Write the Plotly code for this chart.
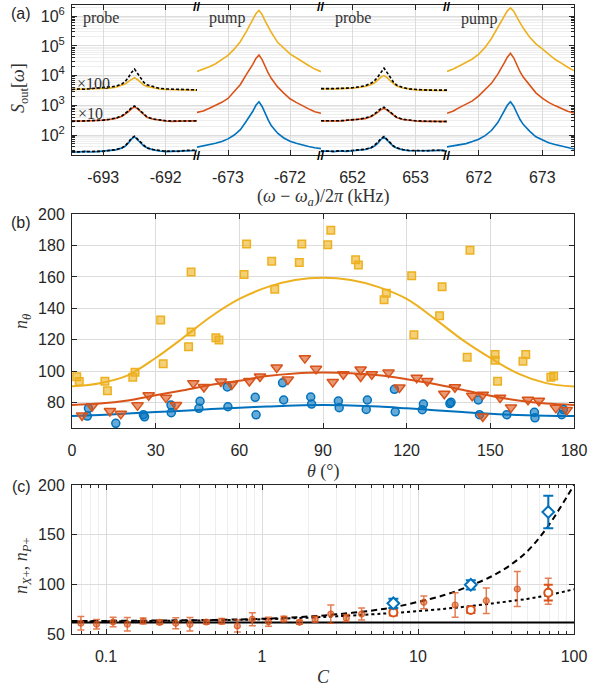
import numpy as np
import plotly.graph_objects as go

# ---------------- (a) spectra (values are log10 S_out) ----------------
detuning = [-1.0, -0.9, -0.8, -0.7, -0.6, -0.5, -0.4, -0.3, -0.2, -0.15, -0.1, -0.05, 0.0,
            0.05, 0.1, 0.15, 0.2, 0.3, 0.4, 0.5, 0.6, 0.7, 0.8, 0.9, 1.0]
centers = [-692.5, -672.5, 652.5, 672.5]
seg_ranges = [[-693.5, -691.5], [-673.5, -671.5], [651.5, 653.5], [671.5, 673.5]]
seg_ticks = [[-693, -692], [-673, -672], [652, 653], [672, 673]]

# probe (left)
blue_p1 = [1.44, 1.42, 1.45, 1.43, 1.44, 1.46, 1.47, 1.50, 1.56, 1.62, 1.72, 1.86, 1.94, 1.84, 1.72, 1.63, 1.57, 1.50, 1.46, 1.44, 1.45, 1.46, 1.47, 1.49, 1.48]
blue_p1_ref = [1.43, 1.44, 1.44, 1.44, 1.45, 1.45, 1.48, 1.51, 1.57, 1.64, 1.75, 1.89, 1.96, 1.86, 1.73, 1.64, 1.56, 1.51, 1.47, 1.45, 1.46, 1.45, 1.48, 1.48, 1.49]
orange_p1 = [2.47, 2.46, 2.47, 2.48, 2.48, 2.50, 2.52, 2.56, 2.63, 2.70, 2.78, 2.88, 2.95, 2.88, 2.78, 2.68, 2.60, 2.53, 2.49, 2.47, 2.46, 2.47, 2.46, 2.48, 2.47]
orange_p1_ref = [2.46, 2.47, 2.48, 2.47, 2.49, 2.50, 2.53, 2.57, 2.65, 2.72, 2.81, 2.91, 2.98, 2.90, 2.80, 2.70, 2.61, 2.54, 2.50, 2.48, 2.47, 2.46, 2.47, 2.47, 2.48]
yellow_p1 = [3.53, 3.54, 3.53, 3.55, 3.55, 3.57, 3.58, 3.61, 3.67, 3.72, 3.80, 3.88, 3.93, 3.86, 3.76, 3.68, 3.63, 3.58, 3.55, 3.53, 3.53, 3.52, 3.53, 3.52, 3.51]
yellow_p1_ref = [3.53, 3.55, 3.54, 3.56, 3.56, 3.58, 3.60, 3.64, 3.72, 3.80, 3.93, 4.10, 4.22, 4.08, 3.90, 3.77, 3.69, 3.62, 3.57, 3.55, 3.54, 3.53, 3.54, 3.52, 3.52]

# pump (left)
blue_q2 = [1.59, 1.63, 1.67, 1.72, 1.78, 1.87, 2.00, 2.18, 2.48, 2.62, 2.80, 3.00, 3.12, 2.96, 2.70, 2.50, 2.31, 2.06, 1.90, 1.79, 1.72, 1.66, 1.61, 1.57, 1.54]
orange_q2 = [2.76, 2.81, 2.90, 2.99, 3.10, 3.23, 3.45, 3.70, 4.05, 4.20, 4.38, 4.58, 4.69, 4.54, 4.28, 4.08, 3.90, 3.62, 3.41, 3.22, 3.10, 2.98, 2.88, 2.78, 2.73]
yellow_q2 = [4.14, 4.21, 4.30, 4.40, 4.53, 4.68, 4.89, 5.15, 5.50, 5.68, 5.88, 6.08, 6.19, 6.06, 5.83, 5.62, 5.45, 5.12, 4.92, 4.73, 4.60, 4.46, 4.34, 4.22, 4.13]

# probe (right)
blue_p3 = [1.45, 1.46, 1.44, 1.46, 1.45, 1.47, 1.48, 1.51, 1.57, 1.63, 1.72, 1.85, 1.93, 1.83, 1.71, 1.62, 1.56, 1.50, 1.47, 1.46, 1.47, 1.48, 1.47, 1.49, 1.46]
blue_p3_ref = [1.46, 1.45, 1.45, 1.47, 1.46, 1.48, 1.49, 1.52, 1.58, 1.65, 1.75, 1.88, 1.95, 1.85, 1.73, 1.63, 1.57, 1.51, 1.48, 1.47, 1.48, 1.47, 1.49, 1.48, 1.47]
orange_p3 = [2.47, 2.48, 2.47, 2.47, 2.49, 2.50, 2.52, 2.55, 2.62, 2.68, 2.76, 2.85, 2.90, 2.84, 2.75, 2.66, 2.59, 2.52, 2.49, 2.47, 2.46, 2.47, 2.46, 2.46, 2.45]
orange_p3_ref = [2.48, 2.47, 2.48, 2.48, 2.49, 2.51, 2.53, 2.57, 2.64, 2.71, 2.80, 2.89, 2.94, 2.87, 2.77, 2.68, 2.60, 2.53, 2.50, 2.48, 2.47, 2.46, 2.47, 2.45, 2.46]
yellow_p3 = [3.55, 3.54, 3.55, 3.56, 3.56, 3.58, 3.60, 3.63, 3.70, 3.76, 3.85, 3.95, 4.00, 3.93, 3.82, 3.72, 3.65, 3.58, 3.54, 3.52, 3.51, 3.52, 3.50, 3.51, 3.50]
yellow_p3_ref = [3.56, 3.55, 3.56, 3.57, 3.57, 3.59, 3.62, 3.66, 3.75, 3.83, 3.95, 4.12, 4.25, 4.10, 3.92, 3.78, 3.68, 3.60, 3.55, 3.53, 3.52, 3.51, 3.51, 3.50, 3.51]

# pump (right)
blue_q4 = [1.60, 1.63, 1.66, 1.71, 1.78, 1.86, 1.98, 2.15, 2.42, 2.60, 2.80, 3.00, 3.12, 2.97, 2.74, 2.52, 2.36, 2.13, 1.94, 1.83, 1.74, 1.68, 1.64, 1.58, 1.53]
orange_q4 = [2.73, 2.81, 2.93, 3.03, 3.15, 3.32, 3.52, 3.74, 4.05, 4.22, 4.42, 4.62, 4.75, 4.60, 4.35, 4.13, 3.95, 3.68, 3.42, 3.24, 3.10, 2.99, 2.90, 2.80, 2.74]
yellow_q4 = [4.14, 4.22, 4.33, 4.44, 4.56, 4.72, 4.95, 5.25, 5.62, 5.82, 6.00, 6.18, 6.28, 6.17, 5.97, 5.77, 5.60, 5.30, 5.07, 4.90, 4.72, 4.55, 4.42, 4.28, 4.17]

seg_labels = ["probe", "pump", "probe", "pump"]

# ---------------- (b) n_theta ----------------
theta_sq = [1.7, 2.6, 11.8, 12.7, 21.8, 22.6, 31.8, 32.7, 42.7, 42.7, 41.8, 51.6, 52.7, 61.7, 62.6, 71.6, 72.7,
            81.5, 82.4, 92.8, 91.7, 101.7, 102.7, 111.9, 112.7, 121.8, 122.6, 131.8, 132.7, 142.7, 141.7,
            151.7, 151.7, 152.6, 162.7, 161.7, 171.7, 172.7]
n_sq = [96.5, 93.5, 93.7, 87.7, 96.3, 99.5, 132.7, 104.8, 163.1, 125.0, 115.7, 121.4, 119.9, 161.5, 181.0, 170.0, 152.1,
        169.1, 181.0, 189.6, 180.4, 171.0, 167.6, 145.5, 149.7, 160.8, 123.3, 135.3, 153.8, 177.0, 109.0,
        110.7, 107.1, 93.7, 110.7, 106.5, 96.3, 97.1]
theta_tri = [3.6, 7.2, 13.6, 17.5, 23.5, 27.5, 33.7, 37.3, 43.5, 47.3, 53.4, 57.3, 63.6, 67.4, 73.4, 77.4, 83.5, 87.5,
             93.5, 97.3, 103.5, 103.5, 107.5, 113.5, 117.4, 123.6, 127.4, 133.5, 137.3, 143.5, 147.3, 147.3,
             153.5, 157.4, 163.5, 167.4, 173.5, 177.4]
n_tri = [72.0, 77.8, 74.8, 73.0, 78.4, 84.8, 83.3, 78.6, 92.5, 90.1, 93.5, 91.6, 93.9, 96.7, 102.4, 94.8, 108.4, 101.6,
         93.3, 98.2, 101.2, 96.7, 98.2, 99.2, 89.7, 96.0, 93.9, 85.8, 89.9, 84.5, 85.2, 71.3,
         83.3, 77.1, 82.0, 81.3, 76.8, 75.5]
theta_ci = [5.5, 5.9, 15.7, 25.6, 26.0, 35.5, 35.6, 45.9, 45.5, 55.7, 55.9, 65.7, 66.0, 75.5, 75.9, 85.6, 85.9,
            95.5, 95.8, 105.9, 105.5, 115.6, 115.9, 126.0, 125.6, 135.9, 135.5, 145.7, 146.1, 155.9, 165.8,
            166.0, 175.6, 176.2]
n_ci = [71.6, 76.5, 67.0, 72.5, 71.1, 78.6, 73.7, 81.0, 76.5, 90.1, 77.5, 83.5, 72.4, 92.7, 81.8, 83.7, 79.2,
        81.1, 76.9, 81.8, 75.8, 88.6, 74.3, 79.2, 75.6, 80.3, 79.5, 81.8, 72.5, 72.5, 74.0,
        70.5, 72.5, 75.8]
theta_fit = [0, 10, 20, 30, 40, 50, 60, 70, 80, 90, 100, 110, 120, 130, 140, 150, 160, 170, 180]
fit_yellow = [90.5, 92.5, 97.5, 108.5, 121.5, 135.0, 146.0, 153.5, 158.0, 159.5, 158.0, 153.5, 146.0, 133.5, 120.0, 108.5, 98.5, 92.5, 90.3]
fit_orange = [78.6, 79.5, 81.5, 84.8, 88.0, 91.5, 94.0, 97.0, 98.7, 99.2, 98.8, 97.5, 95.0, 92.0, 88.3, 84.5, 81.5, 79.5, 78.6]
fit_blue = [71.6, 72.3, 73.2, 74.1, 75.0, 76.0, 76.9, 77.6, 78.3, 78.6, 78.3, 77.6, 76.5, 75.3, 74.1, 73.0, 72.3, 71.8, 71.6]

# ---------------- (c) n_X+, n_P+ vs C ----------------
C_fill = [0.069, 0.087, 0.111, 0.137, 0.173, 0.221, 0.28, 0.345, 0.44, 0.552, 0.695, 0.867, 1.10, 1.38, 1.74,
          2.19, 2.76, 3.47, 4.35, 10.9, 17.3, 27.4, 43.3, 68.4]
n_fill = [60.8, 59.8, 62.1, 59.8, 63.1, 61.8, 60.8, 59.8, 62.1, 62.8, 58.1, 64.8, 62.4, 65.1, 61.8,
          64.8, 70.1, 66.2, 70.1, 81.9, 79.2, 83.5, 95.3, 93.0]
e_fill = [6.7, 4.7, 4.7, 6.7, 3.0, 2.3, 5.5, 6.7, 2.0, 2.7, 6.0, 6.5, 4.5, 2.7, 2.0,
          3.0, 9.2, 3.5, 6.0, 6.4, 12.3, 12.9, 17.7, 13.0]
C_open = [6.95, 21.8, 68.4]
n_open = [71.6, 74.2, 91.6]
e_open = [3.0, 3.0, 8.0]
C_dia = [6.95, 21.8, 68.4]
n_dia = [80.9, 99.5, 172.8]
e_dia = [4.6, 4.7, 16.3]
C_line = [0.06, 0.1, 0.2, 0.5, 1, 2, 3, 5, 7, 10, 15, 20, 30, 40, 50, 60, 70, 80, 90, 100]
n_dashed = [63.0, 63.2, 63.5, 64.2, 65.3, 67.6, 69.8, 73.5, 77.0, 82.3, 89.5, 96.5, 108.5, 120.5, 133.0, 147.0, 161.0, 175.0, 188.0, 200.0]
n_dotted = [62.6, 62.8, 63.1, 63.8, 64.8, 66.5, 67.8, 69.8, 71.2, 73.0, 75.5, 77.5, 80.8, 83.3, 85.3, 87.5, 89.5, 91.5, 93.3, 95.0]
C_base = [0.06, 100]
n_base = [61.5, 61.5]

# ---------------- styling ----------------
W, H = 590, 691
BLUE, ORANGE, YELLOW = "#0072BD", "#D95319", "#EDB120"
AX = "#262626"
GRID = "#DCDCDC"
MGRID = "#EEEEEE"
SANS = "Liberation Sans"
SERIF = "Liberation Serif"
TF = dict(family=SANS, size=16, color=AX)


def px(x):
    return x / W


def py(y):
    return 1 - y / H


XB = [72, 197, 321, 447, 574]
XD = [px(v) for v in XB]
A_DOM = [py(155), py(5)]
B_DOM = [py(428), py(214)]
C_DOM = [py(634), py(485)]

fig = go.Figure()

xnames = ["x", "x2", "x3", "x4"]
ynames = ["y", "y", "y", "y5"]
seg_series = [
    [(blue_p1, BLUE), (orange_p1, ORANGE), (yellow_p1, YELLOW)],
    [(blue_q2, BLUE), (orange_q2, ORANGE), (yellow_q2, YELLOW)],
    [(blue_p3, BLUE), (orange_p3, ORANGE), (yellow_p3, YELLOW)],
    [(blue_q4, BLUE), (orange_q4, ORANGE), (yellow_q4, YELLOW)],
]
seg_refs = [[blue_p1_ref, orange_p1_ref, yellow_p1_ref], None,
            [blue_p3_ref, orange_p3_ref, yellow_p3_ref], None]

for k in range(4):
    f = [centers[k] + d for d in detuning]
    for vals, col in seg_series[k]:
        fig.add_trace(go.Scatter(x=f, y=10 ** np.array(vals), mode="lines",
                                 line=dict(color=col, width=1.6),
                                 xaxis=xnames[k], yaxis=ynames[k], hoverinfo="skip"))
    if seg_refs[k] is not None:
        for vals in seg_refs[k]:
            fig.add_trace(go.Scatter(x=f, y=10 ** np.array(vals), mode="lines",
                                     line=dict(color="black", width=1.6, dash="3px,2px"),
                                     xaxis=xnames[k], yaxis=ynames[k], hoverinfo="skip"))

# (b)
for tf, col in [(fit_blue, BLUE), (fit_orange, ORANGE), (fit_yellow, YELLOW)]:
    fig.add_trace(go.Scatter(x=theta_fit, y=tf, mode="lines", line=dict(color=col, width=2, shape="spline"),
                             xaxis="x5", yaxis="y2", hoverinfo="skip"))
fig.add_trace(go.Scatter(x=theta_ci, y=n_ci, mode="markers",
                         marker=dict(symbol="circle", size=8, color="rgba(0,114,189,0.6)",
                                     line=dict(color=BLUE, width=1.5)),
                         xaxis="x5", yaxis="y2"))
fig.add_trace(go.Scatter(x=theta_tri, y=n_tri, mode="markers",
                         marker=dict(symbol="triangle-down", size=10, color="rgba(217,83,25,0.6)",
                                     line=dict(color=ORANGE, width=1.5)),
                         xaxis="x5", yaxis="y2"))
fig.add_trace(go.Scatter(x=theta_sq, y=n_sq, mode="markers",
                         marker=dict(symbol="square", size=7.5, color="rgba(237,177,32,0.6)",
                                     line=dict(color=YELLOW, width=1.5)),
                         xaxis="x5", yaxis="y2"))

# (c)
fig.add_trace(go.Scatter(x=C_base, y=n_base, mode="lines", line=dict(color="black", width=2),
                         xaxis="x6", yaxis="y3"))
fig.add_trace(go.Scatter(x=C_line, y=n_dotted, mode="lines", line=dict(color="black", width=2, dash="dot", shape="spline"),
                         xaxis="x6", yaxis="y3"))
fig.add_trace(go.Scatter(x=C_line, y=n_dashed, mode="lines", line=dict(color="black", width=2, dash="6px,4px", shape="spline"),
                         xaxis="x6", yaxis="y3"))
fig.add_trace(go.Scatter(x=C_fill, y=n_fill, mode="markers",
                         marker=dict(symbol="circle", size=6, color="rgba(217,83,25,0.55)",
                                     line=dict(color="rgba(217,83,25,0.8)", width=1.2)),
                         error_y=dict(type="data", array=e_fill, color="rgba(217,83,25,0.75)", thickness=1.5, width=3.5),
                         xaxis="x6", yaxis="y3"))
fig.add_trace(go.Scatter(x=C_open, y=n_open, mode="markers",
                         marker=dict(symbol="circle", size=8, color="white", line=dict(color=ORANGE, width=2)),
                         error_y=dict(type="data", array=e_open, color=ORANGE, thickness=2, width=4.5),
                         xaxis="x6", yaxis="y3"))
fig.add_trace(go.Scatter(x=C_dia, y=n_dia, mode="markers",
                         marker=dict(symbol="diamond", size=9, color="white", line=dict(color=BLUE, width=2)),
                         error_y=dict(type="data", array=e_dia, color=BLUE, thickness=2, width=5),
                         xaxis="x6", yaxis="y3"))

common = dict(showline=True, linecolor=AX, linewidth=1, ticks="inside", ticklen=5, tickcolor=AX,
              tickfont=TF, zeroline=False, showgrid=True, gridcolor=GRID, gridwidth=1, automargin=False)

layout = dict(width=W, height=H, margin=dict(l=0, r=0, t=0, b=0, autoexpand=False), paper_bgcolor="white",
              plot_bgcolor="white", showlegend=False, autosize=False)

for k in range(4):
    name = "xaxis" if k == 0 else "xaxis%d" % (k + 1)
    layout[name] = dict(common, domain=[XD[k], XD[k + 1]], anchor=ynames[k], range=seg_ranges[k],
                        tickvals=seg_ticks[k], ticktext=[str(t) for t in seg_ticks[k]],
                        mirror="ticks", ticklabelstandoff=8)

ylog = dict(common, type="log", range=[1.327, 6.377], domain=A_DOM,
            tickvals=[1e2, 1e3, 1e4, 1e5, 1e6],
            ticktext=["10<sup>2</sup>", "10<sup>3</sup>", "10<sup>4</sup>", "10<sup>5</sup>", "10<sup>6</sup>"],
            minor=dict(dtick="D1", ticks="inside", ticklen=3, tickcolor=AX, showgrid=True, gridcolor=MGRID))
layout["yaxis"] = dict(ylog, anchor="x", side="left", ticklabelstandoff=3)
layout["yaxis5"] = dict(ylog, anchor="x4", side="right", showticklabels=False)

layout["xaxis5"] = dict(common, domain=[XD[0], XD[4]], anchor="y2", range=[0, 180],
                        tickvals=[0, 30, 60, 90, 120, 150, 180], mirror="ticks", ticklabelstandoff=8)
layout["yaxis2"] = dict(common, domain=B_DOM, anchor="x5", range=[64, 200],
                        tickvals=[80, 100, 120, 140, 160, 180, 200], mirror="ticks", ticklabelstandoff=3)

layout["xaxis6"] = dict(common, type="log", domain=[XD[0], XD[4]], anchor="y3", range=[-1.218, 2],
                        tickvals=[0.1, 1, 10, 100], ticktext=["0.1", "1", "10", "100"], mirror="ticks",
                        ticklabelstandoff=8,
                        minor=dict(dtick="D1", ticks="inside", ticklen=3, tickcolor=AX, showgrid=True,
                                   gridcolor=MGRID))
layout["yaxis3"] = dict(common, domain=C_DOM, anchor="x6", range=[50, 200],
                        tickvals=[50, 100, 150, 200], mirror="ticks", ticklabelstandoff=3)

fig.update_layout(**layout)

ann = []


def add_text(text, x, y, size=16, family=SANS, angle=0, color=AX, xanchor="center"):
    ann.append(dict(text=text, x=px(x), y=py(y), xref="paper", yref="paper", showarrow=False,
                    font=dict(family=family, size=size, color=color), textangle=angle,
                    xanchor=xanchor, yanchor="middle"))


add_text("(a)", 21, 14)
add_text("(b)", 21, 222)
add_text("(c)", 21, 487)

# segment labels
seg_label_pos = [(101, 18), (227, 18), (353, 18), (479, 19)]
for lbl, (x, y) in zip(seg_labels, seg_label_pos):
    add_text(lbl, x, y, size=16, family=SERIF, color="#333333")
add_text("×100", 94, 83, size=16, family=SERIF, color="#333333")
add_text("×10", 90, 113, size=16, family=SERIF, color="#333333")

# axis break marks
for xb in XB[1:4]:
    for yb in (7, 155):
        add_text("<b>//</b>", xb, yb, size=13, color="black")

add_text("<i>S</i><sub>out</sub>[<i>ω</i>]", 19, 88, size=18, family=SERIF, angle=-90, color="#333333")
add_text("(<i>ω</i> − <i>ω</i><sub><i>a</i></sub>)/2<i>π</i> (kHz)", 323, 197, size=18, family=SERIF, color="#333333")
add_text("<i>n</i><sub><i>θ</i></sub>", 22, 322, size=18, family=SERIF, angle=-90, color="#333333")
add_text("<i>θ</i> (°)", 323, 472, size=18, family=SERIF, color="#333333")
add_text("<i>n</i><sub><i>X</i>+</sub>, <i>n</i><sub><i>P</i>+</sub>", 22, 566, size=18, family=SERIF, angle=-90, color="#333333")
add_text("<i>C</i>", 323, 677, size=18, family=SERIF, color="#333333")

fig.update_layout(annotations=ann)
fig.write_html("out.html", config={"displayModeBar": False},
               post_script="document.body.style.margin='0';document.body.style.padding='0';")
